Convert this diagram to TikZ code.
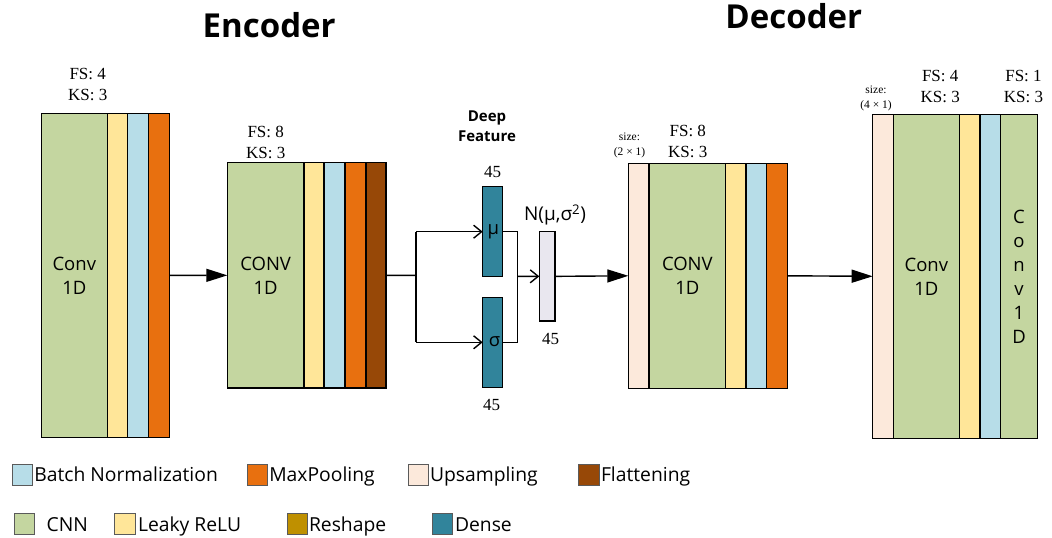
\documentclass[tikz,border=0pt]{standalone}
\usepackage{fontspec}
\setmainfont{Open Sans}
\newfontfamily\serifface{Liberation Serif}
\usetikzlibrary{arrows.meta}

\definecolor{cnn}{HTML}{C4D6A0}
\definecolor{leaky}{HTML}{FFE699}
\definecolor{bnorm}{HTML}{B7DDE8}
\definecolor{maxpool}{HTML}{E8700F}
\definecolor{flat}{HTML}{974807}
\definecolor{upsamp}{HTML}{FCE9DB}
\definecolor{reshape}{HTML}{BF9000}
\definecolor{dense}{HTML}{31849B}
\definecolor{latent}{HTML}{E9E7EF}
\definecolor{swatchline}{HTML}{5A5A5A}

\newcommand\blockfont{\fontsize{18.5}{24}\selectfont}
\newcommand\legendfont{\fontsize{19.3}{22}\selectfont}
\newcommand\paramfont{\serifface\fontsize{17}{21}\selectfont}
\newcommand\sizefont{\serifface\fontsize{11.5}{15}\selectfont}

\tikzset{
  layer/.style={draw=black, line width=1.2pt, rectangle, inner sep=0pt,
    outer sep=0pt, anchor=north west},
  swatch/.style={draw=swatchline, line width=0.9pt, rectangle, inner sep=0pt,
    minimum width=20.5pt, minimum height=20.7pt},
  label/.style={inner sep=0pt, outer sep=0pt},
  params/.style={label, align=center, font=\paramfont},
  sizes/.style={label, align=center, font=\sizefont},
  conn/.style={line width=1.4pt, draw=black},
  fatarrow/.style={conn, -{Triangle[length=21pt,width=13pt]}},
  openarrow/.style={conn, -{Straight Barb[length=8pt,width=13pt]}},
}

\begin{document}
\begin{tikzpicture}[x=1pt,y=-1pt]
\useasboundingbox (0,0) rectangle (1052,538);

% ---------- headings ----------
\node[label, anchor=base, font=\bfseries\fontsize{33}{36}\selectfont] (enc) at (269.2,37.3) {Encoder};
\node[label, anchor=base, font=\bfseries\fontsize{33}{36}\selectfont] (dec) at (793.8,28.3) {Decoder};

% ---------- encoder block 1 ----------
\node[layer, fill=cnn,     minimum width=66pt,   minimum height=324pt] (e1c) at (41.3,113.3) {};
\node[layer, fill=leaky,   minimum width=20pt,   minimum height=324pt] (e1l) at (107.3,113.3) {};
\node[layer, fill=bnorm,   minimum width=21.4pt, minimum height=324pt] (e1b) at (127.3,113.3) {};
\node[layer, fill=maxpool, minimum width=20.6pt, minimum height=324pt] (e1m) at (148.7,113.3) {};
\node[label, align=center, font=\blockfont] (e1t) at (e1c.center) {Conv\\1D};
\node[params] (e1p) at (87.7,84.5) {FS: 4\\KS: 3};

% ---------- encoder block 2 ----------
\node[layer, fill=cnn,     minimum width=76.7pt, minimum height=225.3pt] (e2c) at (227.3,162.7) {};
\node[layer, fill=leaky,   minimum width=20pt,   minimum height=225.3pt] (e2l) at (304,162.7) {};
\node[layer, fill=bnorm,   minimum width=21pt,   minimum height=225.3pt] (e2b) at (324,162.7) {};
\node[layer, fill=maxpool, minimum width=21pt,   minimum height=225.3pt] (e2m) at (345,162.7) {};
\node[layer, fill=flat,    minimum width=20pt,   minimum height=225.3pt] (e2f) at (366,162.7) {};
\node[label, align=center, font=\blockfont] (e2t) at (e2c.center) {CONV\\1D};
\node[params] (e2p) at (265.7,142.2) {FS: 8\\KS: 3};

% ---------- latent space ----------
\node[label, align=center, font=\bfseries\fontsize{15}{19.3}\selectfont] (deep) at (487,126.3) {Deep\\Feature};
\node[layer, fill=dense,  minimum width=20pt,   minimum height=90pt]   (mu)    at (482.7,186.7) {};
\node[layer, fill=dense,  minimum width=20pt,   minimum height=90pt]   (sigma) at (482.7,297.3) {};
\node[layer, fill=latent, minimum width=15.7pt, minimum height=89.3pt] (nbox)  at (539.3,231.7) {};
\node[label, font=\blockfont] (mut) at (493.3,231.7) {μ};
\node[label, font=\blockfont] (sigt) at (494.5,342) {σ};
\node[label, font=\paramfont] (mun) at (492.7,171.7) {45};
\node[label, font=\paramfont] (sign) at (491.7,405) {45};
\node[label, font=\paramfont] (nn) at (550.5,339) {45};
\node[label, font=\fontsize{19}{24}\selectfont] (nlab) at (555,215) {N(μ,σ\textsuperscript{2})};

% ---------- decoder block 1 ----------
\node[layer, fill=upsamp,  minimum width=20.7pt, minimum height=225pt] (d1u) at (628.3,163.3) {};
\node[layer, fill=cnn,     minimum width=76.7pt, minimum height=225pt] (d1c) at (649,163.3) {};
\node[layer, fill=leaky,   minimum width=20.3pt, minimum height=225pt] (d1l) at (725.7,163.3) {};
\node[layer, fill=bnorm,   minimum width=20.7pt, minimum height=225pt] (d1b) at (746,163.3) {};
\node[layer, fill=maxpool, minimum width=20.6pt, minimum height=225pt] (d1m) at (766.7,163.3) {};
\node[label, align=center, font=\blockfont] (d1t) at (d1c.center) {CONV\\1D};
\node[params] (d1p) at (687.8,141.5) {FS: 8\\KS: 3};
\node[sizes] (d1s) at (629.5,145.8) {size:\\(2 × 1)};

% ---------- decoder block 2 ----------
\node[layer, fill=upsamp, minimum width=20.6pt, minimum height=324pt] (d2u) at (872.7,114.3) {};
\node[layer, fill=cnn,    minimum width=66pt,   minimum height=324pt] (d2c) at (893.3,114.3) {};
\node[layer, fill=leaky,  minimum width=20.7pt, minimum height=324pt] (d2l) at (959.3,114.3) {};
\node[layer, fill=bnorm,  minimum width=20.7pt, minimum height=324pt] (d2b) at (980,114.3) {};
\node[layer, fill=cnn,    minimum width=36.6pt, minimum height=324pt] (d2o) at (1000.7,114.3) {};
\node[label, align=center, font=\blockfont] (d2t) at (d2c.center) {Conv\\1D};
\node[label, align=center, font=\fontsize{18.5}{24.1}\selectfont] (d2v) at (1019,277) {C\\o\\n\\v\\1\\D};
\node[params] (d2p) at (940.2,86.7) {FS: 4\\KS: 3};
\node[params] (d2q) at (1023.5,86.7) {FS: 1\\KS: 3};
\node[sizes] (d2s) at (876,98) {size:\\(4 × 1)};

% ---------- connectors ----------
\coordinate (split)  at (416,275.3);
\coordinate (splitT) at (416,231.7);
\coordinate (splitB) at (416,342.3);
\coordinate (mergeT) at (517.7,231.7);
\coordinate (mergeB) at (517.7,342.3);
\coordinate (merge)  at (517.7,276.3);

\draw[fatarrow] (e1m.east) -- (e2c.west);
\draw[conn] (e2f.east) -- (split);
\draw[conn] (splitT) -- (splitB);
\draw[openarrow] (splitT) -- (mu.west);
\draw[openarrow] (splitB) -- (sigma.west);
\draw[conn] (mu.east) -- (mergeT) -- (mergeB) -- (sigma.east);
\draw[openarrow] (merge) -- (nbox.west);
\draw[fatarrow] (nbox.east) -- (d1u.west);
\draw[fatarrow] (d1m.east) -- (d2u.west);

% ---------- legend ----------
\node[swatch, fill=bnorm]   (kbn) at (22.5,474.7) {};
\node[swatch, fill=maxpool] (kmp) at (257.5,474.7) {};
\node[swatch, fill=upsamp]  (kup) at (418.3,474.7) {};
\node[swatch, fill=flat]    (kfl) at (588.8,474.7) {};
\node[swatch, fill=cnn]     (kcn) at (24.2,524.2) {};
\node[swatch, fill=leaky]   (klr) at (125,524.2) {};
\node[swatch, fill=reshape] (krs) at (297.3,524.2) {};
\node[swatch, fill=dense]   (kde) at (442.2,524.2) {};

\node[label, anchor=base west, font=\legendfont] (tbn) at (34.3,481.7) {Batch Normalization};
\node[label, anchor=base west, font=\legendfont] (tmp) at (269.3,481.7) {MaxPooling};
\node[label, anchor=base west, font=\legendfont] (tup) at (430,481.7) {Upsampling};
\node[label, anchor=base west, font=\legendfont] (tfl) at (601,481.7) {Flattening};
\node[label, anchor=base west, font=\legendfont] (tcn) at (46.7,531) {CNN};
\node[label, anchor=base west, font=\legendfont] (tlr) at (138,531) {Leaky ReLU};
\node[label, anchor=base west, font=\legendfont] (trs) at (309,531) {Reshape};
\node[label, anchor=base west, font=\legendfont] (tde) at (455,531) {Dense};
\end{tikzpicture}
\end{document}
